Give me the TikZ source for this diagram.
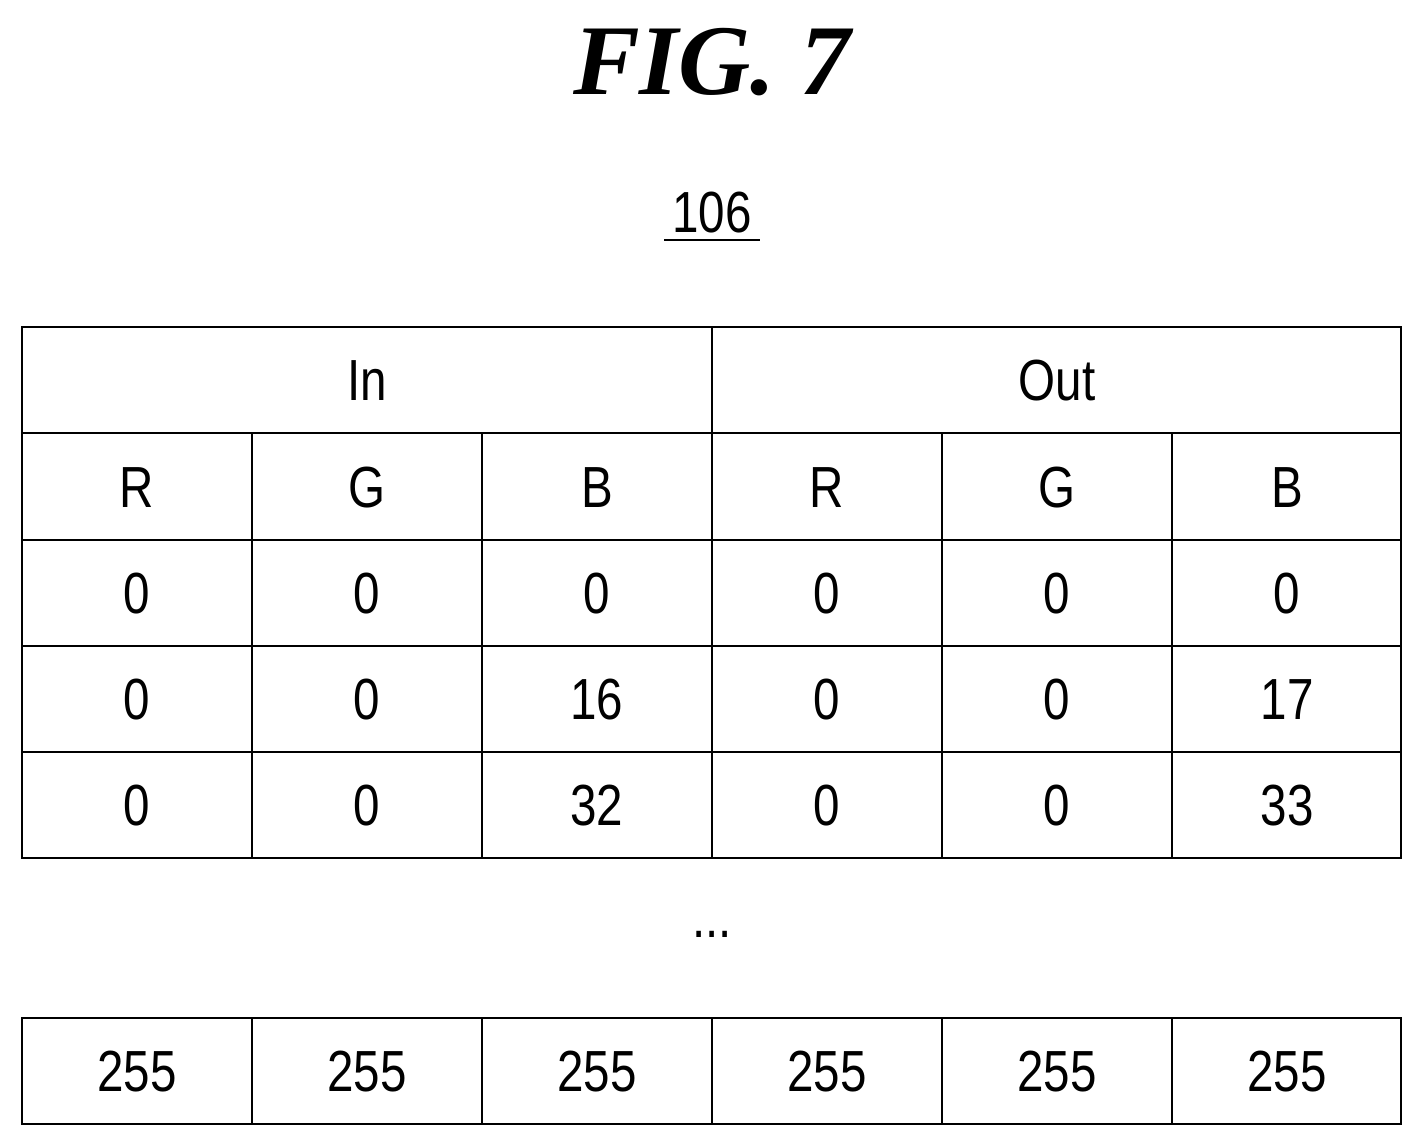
\documentclass[tikz,border=0pt]{standalone}
\usepackage{fontspec}
\setmainfont{Liberation Sans}
\newfontfamily\titlefont{Liberation Serif}
\begin{document}
\begin{tikzpicture}[x=1pt,y=-1pt,
  cell/.style={font=\fontsize{58}{60}\selectfont, xscale=0.82},
  grid/.style={line width=2.6pt}]
\useasboundingbox (0,0) rectangle (1424,1146);
\node (title) at (712,62) {\titlefont\bfseries\itshape\fontsize{100}{104}\selectfont FIG. 7};
\node[cell] (ref) at (712,213) {106};
\draw[line width=2.4pt] (664,240) -- (760,240);
% main table
\draw[grid] (22,327) rectangle (1401,858);
\foreach \y in {433,540,646,752} \draw[grid] (22,\y) -- (1401,\y);
\draw[grid] (712,327) -- (712,858);
\foreach \x in {252,482,942,1172} \draw[grid] (\x,433) -- (\x,858);
\node[cell] (in) at (367,381) {In};
\node[cell] (out) at (1057,381) {Out};
\foreach \t [count=\i from 0] in {R,G,B,R,G,B}
  \node[cell] (h\i) at ({137+230*\i},488) {\t};
\foreach \t [count=\i from 0] in {0,0,0,0,0,0}
  \node[cell] (a\i) at ({137+230*\i},594) {\t};
\foreach \t [count=\i from 0] in {0,0,16,0,0,17}
  \node[cell] (b\i) at ({137+230*\i},700) {\t};
\foreach \t [count=\i from 0] in {0,0,32,0,0,33}
  \node[cell] (c\i) at ({137+230*\i},806) {\t};
\node[cell] (dots) at (712,934) {...};
% last row
\draw[grid] (22,1018) rectangle (1401,1124);
\foreach \x in {252,482,712,942,1172} \draw[grid] (\x,1018) -- (\x,1124);
\foreach \i in {0,...,5}
  \node[cell] (d\i) at ({137+230*\i},1072) {255};
\end{tikzpicture}
\end{document}
